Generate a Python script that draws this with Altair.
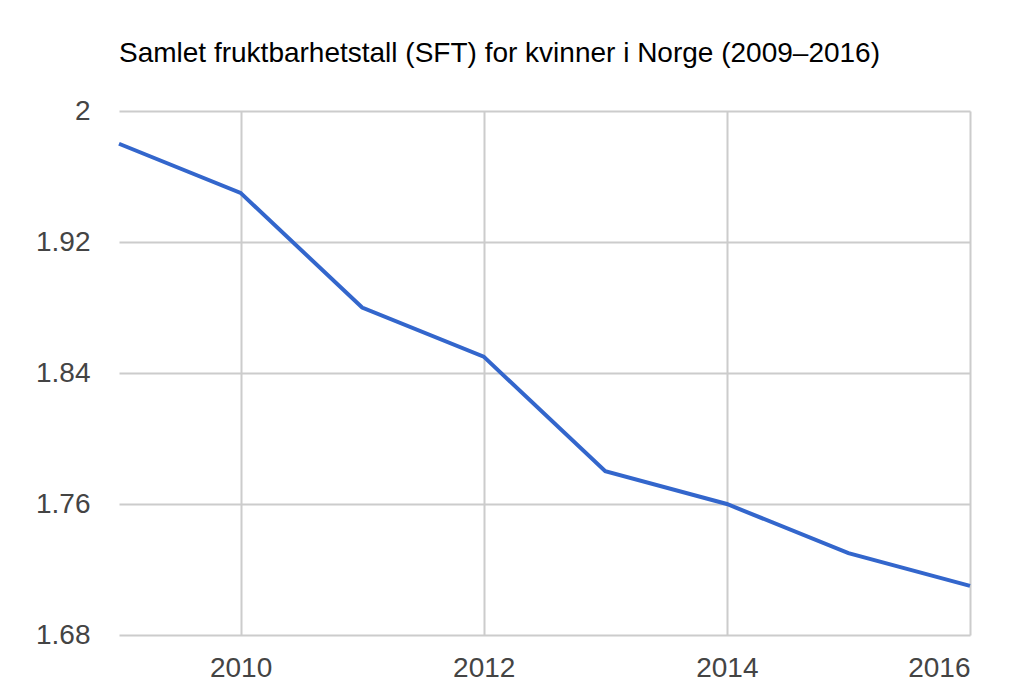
import altair as alt
import pandas as pd

years = [2009, 2010, 2011, 2012, 2013, 2014, 2015, 2016]
sft = [1.98, 1.95, 1.88, 1.85, 1.78, 1.76, 1.73, 1.71]
x_ticks = [2010, 2012, 2014, 2016]
y_ticks = [1.68, 1.76, 1.84, 1.92, 2.0]
title_text = "Samlet fruktbarhetstall (SFT) for kvinner i Norge (2009–2016)"

df = pd.DataFrame({"year": years, "sft": sft})

FONT = "Liberation Sans"

chart = (
    alt.Chart(df)
    .mark_line(color="#3366cc", strokeWidth=4)
    .encode(
        x=alt.X(
            "year:Q",
            scale=alt.Scale(domain=[2009, 2016], nice=False, zero=False),
            axis=alt.Axis(
                values=x_ticks,
                format="d",
                title=None,
                domain=False,
                ticks=False,
                grid=True,
                gridColor="#cccccc",
                gridWidth=2,
                labelFont=FONT,
                labelFontSize=28,
                labelColor="#444444",
                labelPadding=19,
            ),
        ),
        y=alt.Y(
            "sft:Q",
            scale=alt.Scale(domain=[1.68, 2.0], nice=False, zero=False),
            axis=alt.Axis(
                values=y_ticks,
                format="~g",
                title=None,
                domain=False,
                ticks=False,
                grid=True,
                gridColor="#cccccc",
                gridWidth=2,
                labelFont=FONT,
                labelFontSize=28,
                labelColor="#444444",
                labelPadding=29,
            ),
        ),
    )
    .properties(
        width=851,
        height=524,
        autosize=alt.AutoSizeParams(type="none"),
        padding={"left": 111, "top": 103, "right": 46, "bottom": 57},
        title=alt.TitleParams(
            text=title_text,
            anchor="start",
            frame="group",
            font=FONT,
            fontSize=28,
            fontWeight="normal",
            color="#000000",
            baseline="alphabetic",
            offset=7,
        ),
    )
    .configure_view(stroke=None)
)

chart.save("out.html", embed_options={"renderer": "svg", "actions": False})
